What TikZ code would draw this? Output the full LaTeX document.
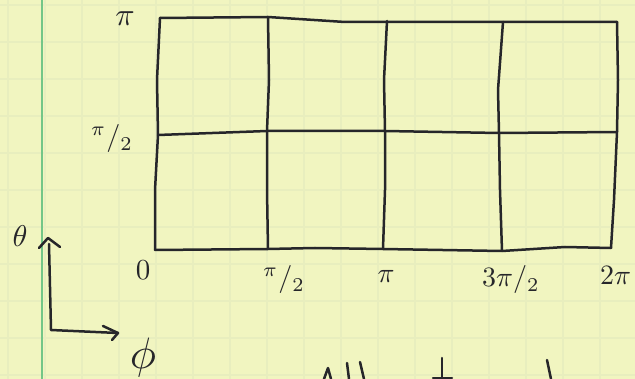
\documentclass[tikz,border=0pt]{standalone}
\usepackage{graphicx}
\usepackage{amsmath}
\definecolor{paper}{RGB}{241,245,192}
\definecolor{paperline}{RGB}{232,238,190}
\definecolor{margin}{RGB}{115,198,135}
\definecolor{ink}{RGB}{38,38,42}
\newcommand{\hand}[2]{\scalebox{#1}{\fontsize{10}{10}\selectfont$#2$}}
\tikzset{
  ink/.style={draw=ink, line width=2.5pt, line cap=round, line join=round},
  lbl/.style={text=ink, inner sep=0pt},
}
\begin{document}
\begin{tikzpicture}[x=1pt,y=-1pt]
\useasboundingbox (0,0) rectangle (635,379);
\fill[paper] (0,0) rectangle (635,379);
% faint graph-paper lines
\foreach \i in {0,...,17} {
  \draw[paperline, line width=1.2pt] (8+37*\i,0) -- (8+37*\i,379);
}
\foreach \j in {0,...,10} {
  \draw[paperline, line width=1.2pt] (0,5+37*\j) -- (635,5+37*\j);
}
% margin line
\draw[margin, line width=2.2pt] (42,0) -- (42,379);

% grid coordinates
\coordinate (t0) at (160,18);
\coordinate (t1) at (268,17);
\coordinate (t2) at (387,21);
\coordinate (t3) at (503,22);
\coordinate (t4) at (617,22);
\coordinate (m0) at (158,135);
\coordinate (m1) at (267,131);
\coordinate (m2) at (385,131);
\coordinate (m3) at (499,133);
\coordinate (m4) at (617,132);
\coordinate (b0) at (155,250);
\coordinate (b1) at (268,249);
\coordinate (b2) at (383,249);
\coordinate (b3) at (502,251);
\coordinate (b4) at (611,248);

% horizontal lines
\draw[ink] (t0) -- (t1) -- (345,22) -- (t3) -- (t4);
\draw[ink] (m0) -- (m1) -- (m2) -- (m3) -- (m4);
\draw[ink] (b0) -- (b1) -- (315,248) -- (b2) -- (b3) -- (565,247) -- (b4);
% vertical lines
\draw[ink] (t0) -- (157,80) -- (m0) -- (155,190) -- (b0);
\draw[ink] (t1) -- (269,80) -- (m1) -- (267,190) -- (b1);
\draw[ink] (t2) -- (384,80) -- (m2) -- (385,190) -- (b2);
\draw[ink] (t3) -- (498,90) -- (m3) -- (500,190) -- (b3);
\draw[ink] (t4) -- (618,80) -- (m4) -- (614,200) -- (b4);

% labels
\node[lbl] (lpi) at (125,19) {\hand{3.2}{\pi}};
\node[lbl] (lpih) at (112,139) {\hand{2.8}{^{\pi}/_{2}}};
\node[lbl] (l0) at (143,270) {\hand{2.9}{0}};
\node[lbl] (lb1) at (284,280) {\hand{2.8}{^{\pi}/_{2}}};
\node[lbl] (lb2) at (386,276) {\hand{2.8}{\pi}};
\node[lbl] (lb3) at (511,280) {\hand{2.8}{3\pi/_{2}}};
\node[lbl, anchor=west] (lb4) at (600,275) {\hand{2.8}{2\pi}};

% axes
\node[lbl] (theta) at (20,236) {\hand{3.0}{\theta}};
\node[lbl] (phi) at (143,358) {\hand{4.4}{\phi}};
\coordinate (apex) at (48,238);
\coordinate (corner) at (51,330);
\coordinate (tip) at (118,333);
\draw[ink] (39,248) -- (apex) -- (60,247);
\draw[ink] (49,244) -- (corner) -- (tip);
\draw[ink] (103,326) -- (tip) -- (112,340);

% cut-off handwriting at the bottom edge
\draw[ink] (324,379) -- (328,368) -- (331,379);
\draw[ink] (347,363) -- (349,379);
\draw[ink] (360,362) -- (364,379);
\draw[ink] (442,358) -- (442,379);
\draw[ink] (433,378) -- (452,378);
\draw[ink] (547,360) -- (551,379);
\end{tikzpicture}
\end{document}
